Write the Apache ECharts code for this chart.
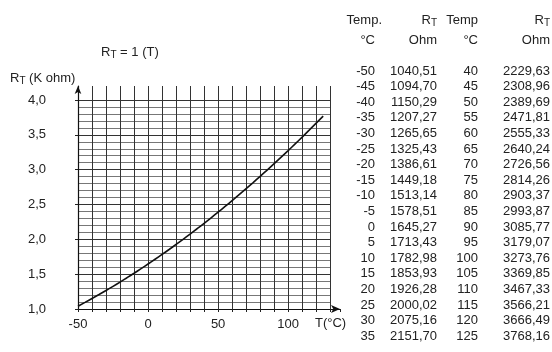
<!DOCTYPE html>
<html>
<head>
<meta charset="utf-8">
<script src="https://cdn.jsdelivr.net/npm/echarts@6/dist/echarts.min.js"></script>
<style>
  html, body { margin: 0; padding: 0; background: #fff; }
  #chart { width: 552px; height: 352px; }
</style>
</head>
<body>
<div id="chart"></div>
<script>
// table data: temperature (°C) and resistance (Ohm)
var tempsA = [-50, -45, -40, -35, -30, -25, -20, -15, -10, -5, 0, 5, 10, 15, 20, 25, 30, 35];
var ohmsA = [1040.51, 1094.70, 1150.29, 1207.27, 1265.65, 1325.43, 1386.61, 1449.18, 1513.14,
  1578.51, 1645.27, 1713.43, 1782.98, 1853.93, 1926.28, 2000.02, 2075.16, 2151.70];
var tempsB = [40, 45, 50, 55, 60, 65, 70, 75, 80, 85, 90, 95, 100, 105, 110, 115, 120, 125];
var ohmsB = [2229.63, 2308.96, 2389.69, 2471.81, 2555.33, 2640.24, 2726.56, 2814.26, 2903.37,
  2993.87, 3085.77, 3179.07, 3273.76, 3369.85, 3467.33, 3566.21, 3666.49, 3768.16];
var xTickLabels = [-50, 0, 50, 100];

var FONT = 'Liberation Sans, Arial, sans-serif';
var TXT = '#222';

// curve in K ohm
var curve = [];
tempsA.concat(tempsB).forEach(function (t, i) {
  var r = ohmsA.concat(ohmsB)[i];
  curve.push([t, r / 1000]);
});

function comma(v) {
  return v.toFixed(2).replace('.', ',');
}

var richSub = {
  n: { fontSize: 13, fontFamily: FONT, color: TXT },
  s: { fontSize: 10, fontFamily: FONT, color: TXT, padding: [6, 0, 0, 0] }
};

function txt(x, y, text, align, rich) {
  return {
    type: 'text',
    x: x,
    y: y,
    style: {
      text: text,
      align: align || 'left',
      verticalAlign: 'middle',
      fontSize: 13,
      fontFamily: FONT,
      fill: TXT,
      rich: rich
    }
  };
}

// table layout
var colX = [375, 437, 478, 550];
var rowY0 = 71, rowH = 15.6;
var graphics = [
  txt(101, 52, '{n|R}{s|T}{n| = 1 (T)}', 'left', richSub),
  txt(10, 78, '{n|R}{s|T}{n| (K ohm)}', 'left', richSub),
  txt(315, 323, 'T(°C)'),
  txt(382, 20, 'Temp.', 'right'),
  txt(colX[1], 20, '{n|R}{s|T}', 'right', richSub),
  txt(colX[2], 20, 'Temp', 'right'),
  txt(colX[3], 20, '{n|R}{s|T}', 'right', richSub),
  txt(colX[0], 40, '°C', 'right'),
  txt(colX[1], 40, 'Ohm', 'right'),
  txt(colX[2], 40, '°C', 'right'),
  txt(colX[3], 40, 'Ohm', 'right')
];
tempsA.forEach(function (t, i) {
  var y = rowY0 + i * rowH;
  graphics.push(txt(colX[0], y, String(t), 'right'));
  graphics.push(txt(colX[1], y, comma(ohmsA[i]), 'right'));
  graphics.push(txt(colX[2], y, String(tempsB[i]), 'right'));
  graphics.push(txt(colX[3], y, comma(ohmsB[i]), 'right'));
});

var chart = echarts.init(document.getElementById('chart'), null, { renderer: 'canvas' });

chart.setOption({
  animation: false,
  backgroundColor: '#fff',
  grid: [
    // vertical lines + curve + arrows
    { left: 78, right: 212, top: 86, bottom: 43, containLabel: false },
    // horizontal lines + y labels
    { left: 78, right: 222, top: 100, bottom: 43, containLabel: false }
  ],
  xAxis: [
    {
      gridIndex: 0,
      type: 'value',
      min: -50,
      max: 137,
      interval: 10,
      axisLine: {
        show: true,
        onZero: false,
        symbol: ['none', 'arrow'],
        symbolSize: [6, 9],
        lineStyle: { color: '#111', width: 1.2 }
      },
      axisTick: { show: true, length: 3, lineStyle: { color: '#222' } },
      axisLabel: {
        margin: 9,
        fontSize: 13,
        fontFamily: FONT,
        color: TXT,
        formatter: function (v) {
          return xTickLabels.indexOf(v) >= 0 ? String(v) : '';
        }
      },
      splitLine: {
        show: true,
        showMinLine: true,
        showMaxLine: false,
        lineStyle: { color: '#333', width: 1 }
      }
    },
    {
      gridIndex: 1,
      type: 'value',
      min: -50,
      max: 130,
      show: false
    }
  ],
  yAxis: [
    {
      gridIndex: 0,
      type: 'value',
      min: 1,
      max: 4.2,
      interval: 0.5,
      axisLine: {
        show: true,
        onZero: false,
        symbol: ['none', 'arrow'],
        symbolSize: [5, 8],
        lineStyle: { color: '#111', width: 1.2 }
      },
      axisTick: { show: false },
      axisLabel: { show: false },
      splitLine: { show: false }
    },
    {
      gridIndex: 1,
      type: 'value',
      min: 1,
      max: 4,
      interval: 0.5,
      axisLine: { show: false, onZero: false },
      axisTick: { show: true, length: 3, lineStyle: { color: '#222' } },
      axisLabel: {
        margin: 32,
        fontSize: 13,
        fontFamily: FONT,
        color: TXT,
        formatter: function (v) {
          return v.toFixed(1).replace('.', ',');
        }
      },
      minorTick: { show: false, splitNumber: 5 },
      splitLine: { show: true, lineStyle: { color: '#333', width: 1 } },
      minorSplitLine: { show: true, lineStyle: { color: '#777', width: 1 } }
    }
  ],
  series: [
    {
      type: 'line',
      xAxisIndex: 0,
      yAxisIndex: 0,
      data: curve,
      smooth: true,
      showSymbol: false,
      lineStyle: { color: '#111', width: 1.6 }
    }
  ],
  graphic: graphics
});
</script>
</body>
</html>
